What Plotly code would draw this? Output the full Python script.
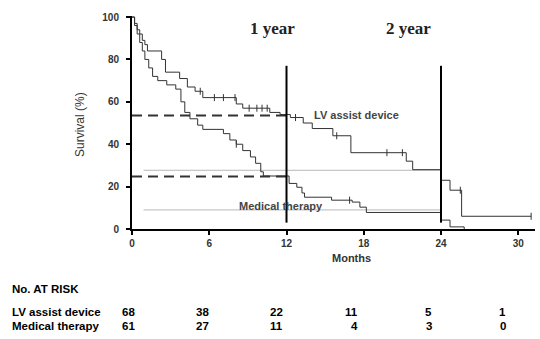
import numpy as np
import plotly.graph_objects as go

# LV assist device Kaplan-Meier steps (months, survival %)
lvad_t = [0, 0.2, 0.4, 0.6, 0.8, 1.0, 1.2, 2.3, 2.6, 3.7, 4.3, 4.9, 5.5, 8.1, 8.6, 10.7, 11.5,
          12.3, 13.3, 14.0, 15.6, 17.0, 21.3, 21.8, 24.0, 24.7, 25.6, 31.0]
lvad_s = [100, 97, 94, 92, 89, 87, 84, 80, 74, 71, 67, 65, 62, 59, 57, 55, 54,
          52.6, 50, 47.4, 44, 36, 32, 28, 23, 18.3, 6, 6]
lvad_cens = [5.3, 6.4, 7.1, 8.0, 9.1, 9.7, 10.1, 10.5, 12.7, 15.9, 19.8, 21.0, 25.5, 31.0]

# Medical therapy Kaplan-Meier steps
med_t = [0, 0.2, 0.4, 0.6, 0.8, 1.0, 1.3, 1.6, 2.0, 2.7, 3.4, 3.8, 4.1, 4.5, 5.1, 5.5, 7.1,
         7.6, 8.1, 8.6, 9.2, 9.6, 10.0, 10.2, 12.2, 12.8, 13.2, 13.4, 15.5, 17.1, 17.7, 18.2,
         24.0, 24.7, 25.8]
med_s = [100, 96, 92, 88, 84, 80, 76, 72, 70, 68, 66, 60, 55, 52, 49, 47, 45,
         42, 40, 37, 34, 31, 27, 25, 21.5, 19.7, 17, 15, 13.6, 12.7, 10.3, 7.8,
         4.2, 1, 0]
med_cens = [8.1, 16.9]

# reference survival levels
one_year = [53.5, 24.8]   # dashed lines, LVAD / medical
two_year = [27.7, 9.0]    # thin grey lines

xticks = [0, 6, 12, 18, 24, 30]
yticks = [0, 20, 40, 60, 80, 100]

risk_times = [0, 6, 12, 18, 24, 30]
risk_lvad = [68, 38, 22, 11, 5, 1]
risk_med = [61, 27, 11, 4, 3, 0]


def surv_at(ts, ss, t):
    idx = np.searchsorted(np.array(ts), t, side="right") - 1
    return np.array(ss)[idx]


# layout geometry (pixels)
L, R, T, B = 132, 5, 16, 110
W, H = 540, 339
PW, PH = W - L - R, H - T - B


def py(p):  # pixel y -> paper y
    return (H - B - p) / PH


def px(p):  # pixel x -> paper x
    return (p - L) / PW


fig = go.Figure()

for v in two_year:
    fig.add_trace(go.Scatter(x=[0.9, 24], y=[v, v], mode="lines",
                             line=dict(color="#b8b8b8", width=1), hoverinfo="skip"))
for v in one_year:
    fig.add_trace(go.Scatter(x=[0, 12], y=[v, v], mode="lines",
                             line=dict(color="#333333", width=2, dash="10px,6px"), hoverinfo="skip"))

fig.add_trace(go.Scatter(x=lvad_t, y=lvad_s, mode="lines", line_shape="hv",
                         line=dict(color="#333333", width=1)))
fig.add_trace(go.Scatter(x=med_t, y=med_s, mode="lines", line_shape="hv",
                         line=dict(color="#333333", width=1)))
fig.add_trace(go.Scatter(x=lvad_cens, y=surv_at(lvad_t, lvad_s, lvad_cens), mode="markers",
                         marker=dict(symbol="line-ns", size=5, line=dict(color="#333", width=1))))
fig.add_trace(go.Scatter(x=med_cens, y=surv_at(med_t, med_s, med_cens), mode="markers",
                         marker=dict(symbol="line-ns", size=5, line=dict(color="#333", width=1))))

for xv in [12, 24]:
    fig.add_trace(go.Scatter(x=[xv, xv], y=[3, 77], mode="lines",
                             line=dict(color="black", width=2), hoverinfo="skip"))

ann = []
ann.append(dict(x=10.9, y=94.5, text="<b>1 year</b>", showarrow=False,
                font=dict(family="Liberation Serif", size=17, color="#222")))
ann.append(dict(x=21.5, y=94.5, text="<b>2 year</b>", showarrow=False,
                font=dict(family="Liberation Serif", size=17, color="#222")))
ann.append(dict(x=17.4, y=54, text="<b>LV assist device</b>", showarrow=False,
                font=dict(family="Arial", size=11, color="#444")))
ann.append(dict(x=11.6, y=11, text="<b>Medical therapy</b>", showarrow=False,
                font=dict(family="Arial", size=11, color="#444")))
ann.append(dict(xref="paper", yref="paper", x=px(71), y=py(125), text="Survival (%)", textangle=-90,
                showarrow=False, font=dict(family="Arial", size=12, color="#333")))
ann.append(dict(xref="paper", yref="paper", x=px(351), y=py(266), text="<b>Months</b>", showarrow=False,
                font=dict(family="Arial", size=11, color="#333")))

ann.append(dict(xref="paper", yref="paper", x=px(10), y=py(289), xanchor="left", yanchor="middle",
                text="<b>No. AT RISK</b>", showarrow=False, font=dict(family="Arial", size=11.5, color="black")))
for row, (lab, vals) in enumerate([("LV assist device", risk_lvad), ("Medical therapy", risk_med)]):
    yy = py(312 + 14 * row)
    ann.append(dict(xref="paper", yref="paper", x=px(10), y=yy, xanchor="left", yanchor="middle",
                    text="<b>%s</b>" % lab, showarrow=False, font=dict(family="Arial", size=11.5, color="black")))
    for t, v in zip(risk_times, vals):
        ann.append(dict(x=t + 0.4 - 0.04 * t, yref="paper", y=yy, xanchor="right", yanchor="middle",
                        text="<b>%d</b>" % v, showarrow=False, font=dict(family="Arial", size=11.5, color="black")))

fig.update_layout(
    width=W, height=H, margin=dict(l=L, r=R, t=T, b=B),
    plot_bgcolor="white", paper_bgcolor="white", showlegend=False,
    annotations=ann,
    xaxis=dict(range=[0, 31.3], tickvals=xticks, showline=True, linecolor="black", linewidth=2,
               ticks="outside", ticklen=4, tickwidth=1.5, tickcolor="black", showgrid=False, zeroline=False,
               tickfont=dict(family="Arial", size=10, color="#333", weight="bold")),
    yaxis=dict(range=[0, 100.5], tickvals=yticks, showline=True, linecolor="black", linewidth=2,
               ticks="outside", ticklen=4, tickwidth=1.5, tickcolor="black", showgrid=False, zeroline=False,
               ticklabelstandoff=5,
               tickfont=dict(family="Arial", size=10, color="#333", weight="bold")),
)

fig.write_html("out.html", config={"displayModeBar": False},
               post_script="document.body.style.margin='0';document.body.style.overflow='hidden';")
